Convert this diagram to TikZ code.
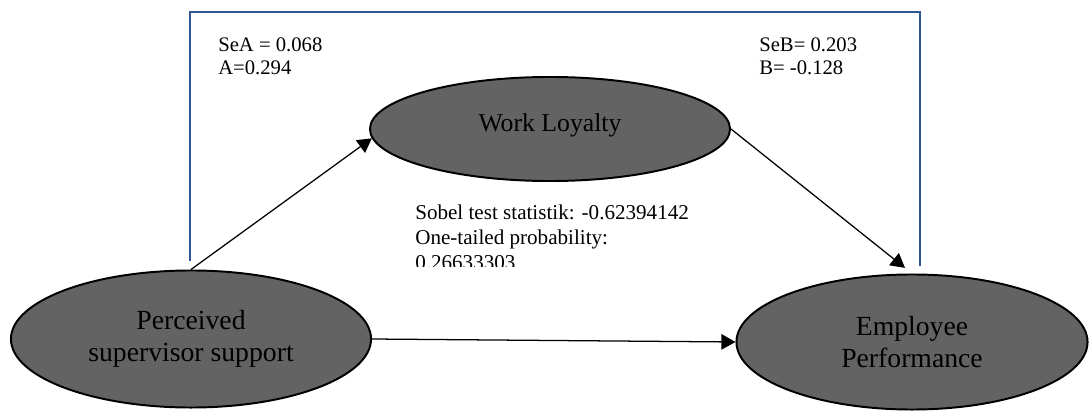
\documentclass[tikz,border=0pt]{standalone}
\usepackage{fontspec}
\setmainfont{Liberation Serif}
\usepackage{tikz}
\usetikzlibrary{calc,shapes.geometric,arrows.meta}
\usepackage{xcolor}
\definecolor{frameblue}{RGB}{47,85,151}
\definecolor{latentgray}{RGB}{99,99,99}
\newcommand{\pxsize}{0.025}
\newcommand{\statfont}[2]{\fontsize{#1}{#2}\selectfont}
\tikzset{
	latent/.style={ellipse,draw=black,line width=1.4pt,fill=latentgray,inner sep=0pt,align=center,font=\statfont{19.7}{22.8}},
	effect/.style={-{Triangle[length=10pt,width=11pt]},line width=0.9pt},
	stat/.style={anchor=north west,inner sep=0pt,align=left}
}

\begin{document}
\begin{tikzpicture}[x=\pxsize cm,y=-\pxsize cm]
	\coordinate (O) at (0,0);
	\useasboundingbox (O) rectangle (1089,412);

	\draw[frameblue,line width=1.3pt] (190,261) |- (920,12) -- (920,266);

	\node[latent,minimum width=9cm,minimum height=3.425cm] (pss) at (191,339) {Perceived\\supervisor support};
	\node[latent,minimum width=9cm,minimum height=2.6cm,font=\statfont{18.3}{21}] (wl) at (550,129) {\raisebox{9pt}{Work Loyalty}};
	\node[latent,minimum width=8.775cm,minimum height=3.375cm] (ep) at (912,342) {Employee\\Performance};

	\draw[effect] (pss.north) -- (wl.183);
	\draw[effect,shorten >=6.4pt] (wl.east) -- (ep.north);
	\draw[effect] (pss.east) -- (ep.west);

	\node[stat,font=\statfont{14.7}{17}] (sea) at (218,37) {SeA = 0.068\\A=0.294};
	\node[stat,font=\statfont{14.7}{17}] (seb) at (759,37) {SeB= 0.203\\B= -0.128};

	\begin{scope}
		\clip (405,195) rectangle (700,266);
		\node[stat,font=\statfont{15}{17.8}] (sobel) at (415,205) {Sobel test statistik: -0.62394142\\One-tailed probability:\\0.26633303};
	\end{scope}
\end{tikzpicture}
\end{document}
